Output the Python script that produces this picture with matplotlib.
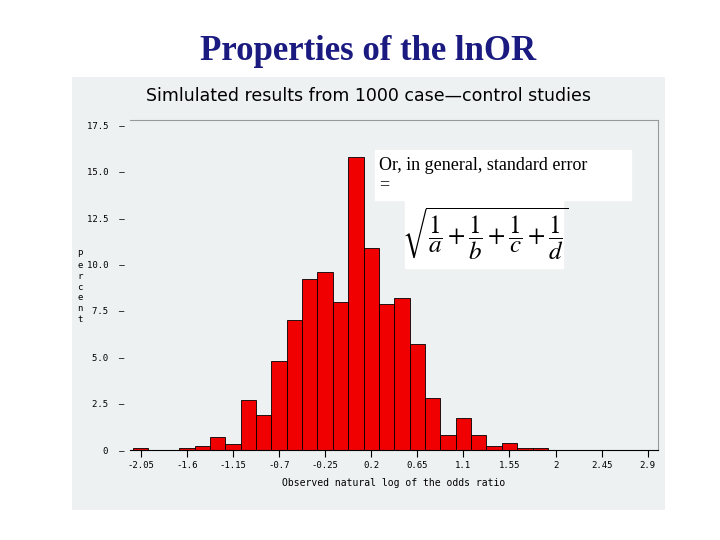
import matplotlib.pyplot as plt
import numpy as np

plt.rcParams["mathtext.fontset"] = "stix"

# bin centres and percentages
centers = [-2.05 + 0.15 * i for i in range(27)]
percent = [0.1, 0, 0, 0.1, 0.2, 0.7, 0.3, 2.7, 1.9, 4.8, 7.0, 9.2, 9.6, 8.0,
           15.8, 10.9, 7.9, 8.2, 5.7, 2.8, 0.8, 1.7, 0.8, 0.2, 0.4, 0.1, 0.1]
xticks = [-2.05, -1.6, -1.15, -0.7, -0.25, 0.2, 0.65, 1.1, 1.55, 2, 2.45, 2.9]
xtick_labels = ["-2.05", "-1.6", "-1.15", "-0.7", "-0.25", "0.2", "0.65", "1.1", "1.55", "2", "2.45", "2.9"]
yticks = [0, 2.5, 5.0, 7.5, 10.0, 12.5, 15.0, 17.5]
ytick_labels = ["0", "2.5", "5.0", "7.5", "10.0", "12.5", "15.0", "17.5"]

W, H = 720, 540
fig = plt.figure(figsize=(7.2, 5.4), dpi=100)
fig.patch.set_facecolor("white")

fig.text(368 / W, 1 - 52 / H, "Properties of the lnOR", ha="center", va="center",
         family="Liberation Serif", fontweight="bold", fontsize=25, color="#1a1a80")

# gray panel
panel = fig.add_axes([72 / W, 1 - 510 / H, 593 / W, 433 / H])
panel.set_facecolor("#eef1f1")
panel.set_xticks([]); panel.set_yticks([])
for s in panel.spines.values():
    s.set_visible(False)

fig.text(368 / W, 1 - 96 / H, "Simlulated results from 1000 case\u2014control studies",
         ha="center", va="center", fontsize=12.5, family="DejaVu Sans")

ax = fig.add_axes([130 / W, 1 - 450 / H, 528 / W, 330 / H])
ax.set_facecolor("#eef1f1")
ax.bar(centers, percent, width=0.15, color="#f00000", edgecolor="black", linewidth=0.6)
ax.set_xlim(-2.155, 3.0)
ax.set_ylim(0, 17.8)
ax.set_xticks(xticks, xtick_labels, fontsize=6.5, family="DejaVu Sans Mono")
ax.set_yticks(yticks, [t + "  \u2013" for t in ytick_labels], fontsize=6.5, family="DejaVu Sans Mono")
ax.tick_params(axis="y", length=0, pad=4)
ax.tick_params(axis="x", direction="out", length=5, pad=3)
ax.spines["left"].set_visible(False)
ax.spines["right"].set_color("#999999")
ax.spines["top"].set_color("#999999")
ax.set_xlabel("Observed natural log of the odds ratio", fontsize=7, family="DejaVu Sans Mono", labelpad=6)

fig.text(80 / W, 1 - 287 / H, "P\ne\nr\nc\ne\nn\nt", ha="center", va="center",
         fontsize=6.5, family="DejaVu Sans Mono", linespacing=1.25)

# annotation boxes
fig.patches.append(plt.Rectangle((375 / W, 1 - 200 / H), 256 / W, 50 / H,
                                 transform=fig.transFigure, color="white", zorder=3))
fig.patches.append(plt.Rectangle((405 / W, 1 - 268 / H), 158 / W, 68 / H,
                                 transform=fig.transFigure, color="white", zorder=3))
fig.text(379 / W, 1 - 175 / H, "Or, in general, standard error\n=", ha="left", va="center",
         family="Liberation Serif", fontsize=13, zorder=4, linespacing=1.1)
fig.text(485 / W, 1 - 234 / H, r"$\sqrt{\dfrac{1}{a}+\dfrac{1}{b}+\dfrac{1}{c}+\dfrac{1}{d}}$",
         ha="center", va="center", fontsize=18, zorder=4)

fig.savefig("out.png", dpi=100)
